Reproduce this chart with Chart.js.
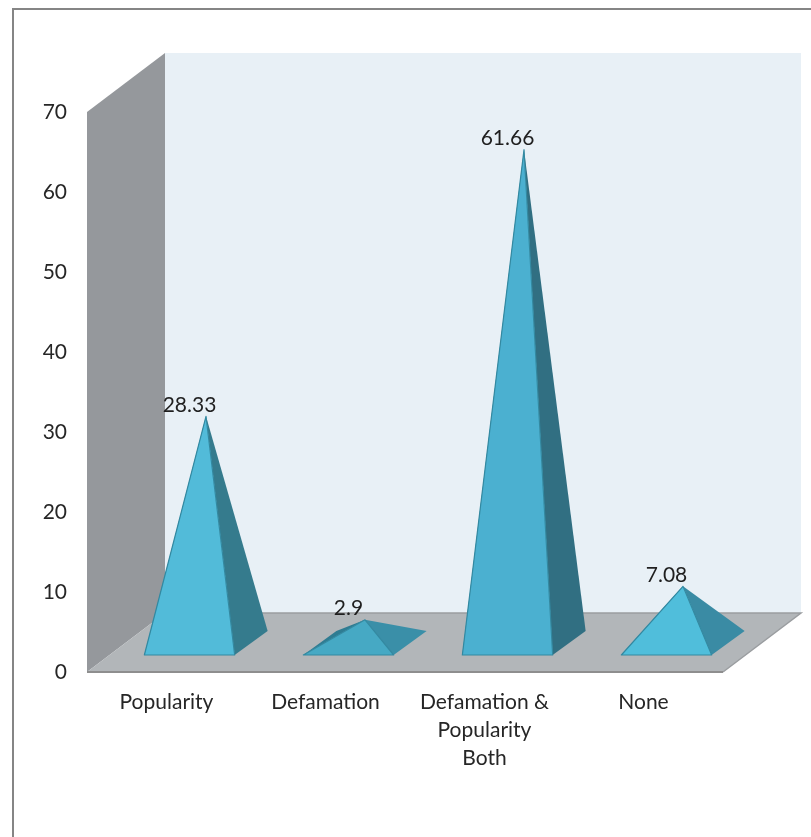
<!DOCTYPE html>
<html>
<head>
<meta charset="utf-8">
<style>
  html, body { margin: 0; padding: 0; background: #ffffff; overflow: hidden; }
  #wrap { position: relative; width: 811px; height: 837px; }
</style>
<script src="https://cdn.jsdelivr.net/npm/chart.js@4"></script>
</head>
<body>
<div id="wrap"><canvas id="chart" width="811" height="837"></canvas></div>
<script>
const categories = ["Popularity", "Defamation", ["Defamation &", "Popularity", "Both"], "None"];
const shareValues = [28.33, 2.9, 61.66, 7.08];
const axisMax = 70;
const axisStep = 10;

// Face shades for each pyramid
const frontShades = ["#52bbd9", "#46a9c4", "#4bb0d0", "#50bedb"];
const sideShades = ["#357b8d", "#3a8fa8", "#316f82", "#3a8ba4"];
const rearShades = ["#2f7c92", "#2f7c92", "#2f7c92", "#2f7c92"];
const edgeColor = "#3389a1";

const FONT = "Lato, 'Open Sans', sans-serif";
const TEXT = "#262626";

// Oblique projection of the chart box
const DEPTH_X = 78;
const DEPTH_Y = -59;
const SLOT_X = 23;       // front of a pyramid's base, measured from the front of the floor
const SLOT_Y = -17;
const BASE_X = 33;       // depth of a pyramid's base
const BASE_Y = -24;

function poly(ctx, pts, fill, stroke, lw) {
  ctx.beginPath();
  pts.forEach((p, i) => i ? ctx.lineTo(p[0], p[1]) : ctx.moveTo(p[0], p[1]));
  ctx.closePath();
  ctx.fillStyle = fill;
  ctx.fill();
  if (stroke) {
    ctx.strokeStyle = stroke;
    ctx.lineWidth = lw || 1;
    ctx.lineJoin = "round";
    ctx.stroke();
  }
}

// Page frame and the three walls of the box
const boxPlugin = {
  id: "box3d",
  beforeDatasetsDraw(chart) {
    const { ctx, chartArea: a } = chart;
    ctx.save();
    ctx.strokeStyle = "#858585";
    ctx.lineWidth = 2;
    ctx.beginPath();
    ctx.moveTo(13, 837);
    ctx.lineTo(13, 9);
    ctx.lineTo(811, 9);
    ctx.stroke();

    const l = a.left, r = a.right, t = a.top, b = a.bottom;
    poly(ctx, [[l + DEPTH_X, t + DEPTH_Y], [r + DEPTH_X, t + DEPTH_Y], [r + DEPTH_X, b + DEPTH_Y], [l + DEPTH_X, b + DEPTH_Y]], "#e8f0f6");
    poly(ctx, [[l, t], [l + DEPTH_X, t + DEPTH_Y], [l + DEPTH_X, b + DEPTH_Y], [l, b]], "#95989c");
    poly(ctx, [[l, b], [r, b], [r + DEPTH_X, b + DEPTH_Y], [l + DEPTH_X, b + DEPTH_Y]], "#b2b6b9");

    ctx.strokeStyle = "#9a9da0";
    ctx.lineWidth = 1.5;
    ctx.beginPath();
    ctx.moveTo(l + DEPTH_X, b + DEPTH_Y);
    ctx.lineTo(r + DEPTH_X, b + DEPTH_Y);
    ctx.lineTo(r, b);
    ctx.stroke();
    ctx.strokeStyle = "#8e8e8e";
    ctx.lineWidth = 2;
    ctx.beginPath();
    ctx.moveTo(l, b);
    ctx.lineTo(r, b);
    ctx.stroke();
    ctx.restore();
  }
};

// Pyramids are raised on the bar elements' own x, width and value pixels
const pyramidPlugin = {
  id: "pyramids",
  afterDatasetsDraw(chart) {
    const { ctx, scales } = chart;
    const meta = chart.getDatasetMeta(0);
    const zero = scales.y.getPixelForValue(0);
    ctx.save();
    meta.data.forEach((bar, i) => {
      const half = bar.width / 2;
      const x0 = bar.x - half + SLOT_X;
      const x1 = bar.x + half + SLOT_X;
      const yFront = zero + SLOT_Y;
      const midX = bar.x + SLOT_X + BASE_X / 2;
      const apexY = bar.y + SLOT_Y + BASE_Y / 2;
      const apex = [midX, apexY];
      const fl = [x0, yFront], fr = [x1, yFront];
      const bl = [x0 + BASE_X, yFront + BASE_Y], br = [x1 + BASE_X, yFront + BASE_Y];
      poly(ctx, [fl, bl, apex], rearShades[i]);
      poly(ctx, [fr, br, apex], sideShades[i]);
      poly(ctx, [fl, fr, apex], frontShades[i], edgeColor, 1.2);

      ctx.fillStyle = "#1f1f1f";
      ctx.font = "21px " + FONT;
      ctx.textAlign = "center";
      ctx.textBaseline = "middle";
      ctx.fillText(String(shareValues[i]), bar.x + SLOT_X, apexY - 11.5);
    });
    ctx.restore();
  }
};

new Chart(document.getElementById("chart"), {
  type: "bar",
  data: {
    labels: categories,
    datasets: [{
      data: shareValues,
      backgroundColor: "rgba(0,0,0,0)",
      borderWidth: 0,
      categoryPercentage: 1,
      barPercentage: 0.568
    }]
  },
  plugins: [boxPlugin, pyramidPlugin],
  options: {
    responsive: false,
    animation: false,
    events: [],
    layout: { padding: { top: 112, right: 88, left: 0, bottom: 0 } },
    plugins: { legend: { display: false }, title: { display: false }, tooltip: { enabled: false } },
    scales: {
      x: {
        grid: { display: false, drawTicks: false },
        border: { display: false },
        afterFit(s) { s.height = 165; },
        ticks: {
          autoSkip: false,
          maxRotation: 0,
          minRotation: 0,
          padding: 16,
          color: TEXT,
          font: { family: FONT, size: 21, lineHeight: 1.333 }
        }
      },
      y: {
        min: 0,
        max: axisMax,
        grid: { display: false, drawTicks: false },
        border: { display: false },
        afterFit(s) { s.width = 87; },
        ticks: {
          stepSize: axisStep,
          padding: 20,
          color: TEXT,
          font: { family: FONT, size: 21 }
        }
      }
    }
  }
});
</script>
</body>
</html>
